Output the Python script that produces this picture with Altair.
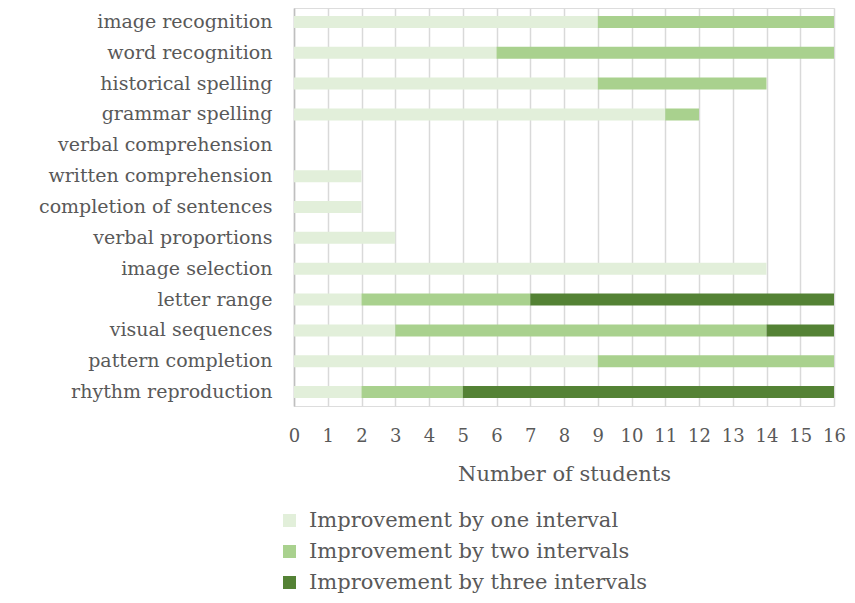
import altair as alt
import pandas as pd

categories = ["image recognition", "word recognition", "historical spelling", "grammar spelling",
              "verbal comprehension", "written comprehension", "completion of sentences",
              "verbal proportions", "image selection", "letter range", "visual sequences",
              "pattern completion", "rhythm reproduction"]
one_interval = [9, 6, 9, 11, 0, 2, 2, 3, 14, 2, 3, 9, 2]
two_intervals = [7, 10, 5, 1, 0, 0, 0, 0, 0, 5, 11, 7, 3]
three_intervals = [0, 0, 0, 0, 0, 0, 0, 0, 0, 9, 2, 0, 11]
series = ["Improvement by one interval", "Improvement by two intervals", "Improvement by three intervals"]
colors = ["#E2EFDA", "#A9D18E", "#548235"]

rows = []
for vals, s, o in zip([one_interval, two_intervals, three_intervals], series, range(3)):
    for c, v in zip(categories, vals):
        rows.append({"category": c, "value": v, "series": s, "ord": o})
df = pd.DataFrame(rows)

FONT = "DejaVu Serif"
TXT = "#595959"

chart = alt.Chart(df).mark_bar(size=12).encode(
    y=alt.Y("category:N", sort=categories, title=None,
            scale=alt.Scale(paddingInner=0.5, paddingOuter=0.2),
            axis=alt.Axis(labelFont=FONT, labelFontSize=19, labelColor=TXT, ticks=False,
                          labelPadding=22, domainColor="#BFBFBF", domainWidth=1.5, labelLimit=300)),
    x=alt.X("value:Q", stack="zero", title="Number of students",
            scale=alt.Scale(domain=[0, 16], nice=False),
            axis=alt.Axis(values=list(range(17)), labelFont=FONT, labelFontSize=18, labelColor=TXT,
                          ticks=False, domain=False, labelPadding=21, grid=True,
                          labelOverlap=False, labelFlush=False,
                          gridColor="#D9D9D9", gridWidth=1.5, titleFont=FONT, titleFontSize=21,
                          titleFontWeight="normal", titleColor=TXT, titlePadding=18)),
    color=alt.Color("series:N", sort=series, scale=alt.Scale(domain=series, range=colors),
                    legend=alt.Legend(title=None, orient="none", legendX=-15, legendY=502,
                                      symbolType="square", symbolSize=170, symbolStrokeWidth=0,
                                      labelFont=FONT, labelFontSize=21, labelColor=TXT,
                                      rowPadding=9, labelOffset=9, labelLimit=500)),
    order=alt.Order("ord:Q"),
).properties(
    width=540, height=398,
    autosize=alt.AutoSizeParams(type="none"),
    padding={"left": 286, "top": 0, "right": 12, "bottom": 188},
).configure_view(stroke=None).configure(background="white")

chart.save("out.html", embed_options={"renderer": "svg", "actions": False})
